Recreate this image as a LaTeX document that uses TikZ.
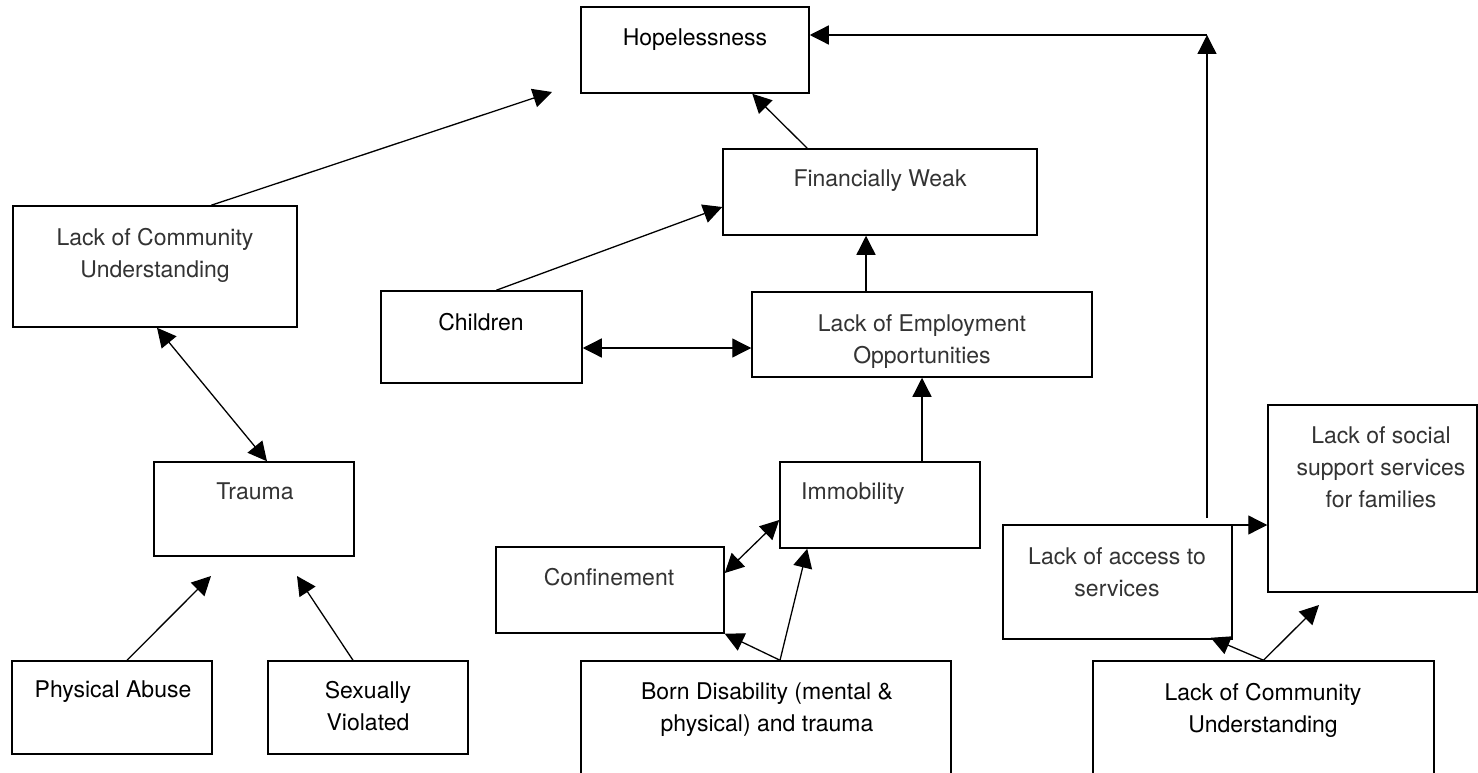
\documentclass[tikz,border=0pt]{standalone}
\usepackage{fontspec}
\setmainfont{TeX Gyre Heros}
\usetikzlibrary{arrows.meta}
\begin{document}
\begin{tikzpicture}[x=1pt,y=-1pt,
 box/.style={draw,line width=1.5pt,inner sep=0pt,rectangle},
 lbl/.style={anchor=north,inner sep=0pt,align=center,font=\fontsize{23}{32}\selectfont},
 lite/.style={lbl,text=black!80},
 reg/.style={lbl,text=black},
 arr/.style={line width=1.3pt,-{Triangle[length=19pt,width=19pt]}},
 darr/.style={line width=1.3pt,{Triangle[length=19pt,width=19pt]}-{Triangle[length=19pt,width=19pt]}}]
\useasboundingbox (0,0) rectangle (1478,773);
\fill[white] (0,0) rectangle (1478,773);

% boxes
\node[box,minimum width=228pt,minimum height=86pt] (hope) at (695,50) {};
\node[box,minimum width=314pt,minimum height=86pt] (fw) at (880,192) {};
\node[box,minimum width=284pt,minimum height=121pt] (locu) at (155,266.5) {};
\node[box,minimum width=201pt,minimum height=92pt] (child) at (481.5,337) {};
\node[box,minimum width=340pt,minimum height=85pt] (emp) at (922,334.5) {};
\node[box,minimum width=200pt,minimum height=94pt] (trauma) at (254,509) {};
\node[box,minimum width=200pt,minimum height=86pt] (immob) at (880,505) {};
\node[box,minimum width=209pt,minimum height=187pt] (social) at (1372.5,498.5) {};
\node[box,minimum width=228pt,minimum height=86pt] (conf) at (610,590) {};
\node[box,minimum width=229pt,minimum height=114pt] (access) at (1117.5,582) {};
\node[box,minimum width=200pt,minimum height=93pt] (pa) at (112,707.5) {};
\node[box,minimum width=200pt,minimum height=93pt] (sv) at (368,707.5) {};
\node[box,minimum width=370pt,minimum height=139pt] (bd) at (766,730.5) {};
\node[box,minimum width=341pt,minimum height=139pt] (bcomm) at (1263.5,730.5) {};

% texts
\node[reg] (hope-t) at (695,29) {Hopelessness};
\node[lite] (fw-t) at (880,170) {Financially Weak};
\node[lite] (locu-t) at (155,228) {Lack of Community\\Understanding};
\node[reg] (child-t) at (481,313) {Children};
\node[lite] (emp-t) at (922,314) {Lack of Employment\\Opportunities};
\node[lite] (trauma-t) at (255,483) {Trauma};
\node[lite,anchor=north west] (immob-t) at (801,483) {Immobility};
\node[lite] (social-t) at (1381,426) {Lack of social\\support services\\for families};
\node[lite] (conf-t) at (609,568) {Confinement};
\node[lite] (access-t) at (1117,547) {Lack of access to\\services};
\node[reg] (pa-t) at (113,681) {Physical Abuse};
\node[reg] (sv-t) at (368,681) {Sexually\\Violated};
\node[reg] (bd-t) at (767,683) {Born Disability (mental \&\\physical) and trauma};
\node[reg] (bcomm-t) at (1263,683) {Lack of Community\\Understanding};

% free ends
\coordinate (c1) at (552,92);
\coordinate (cS) at (1207,518);
\coordinate (cT) at (1207,35);
\coordinate (cA) at (1218,525);
\coordinate (c10) at (211,576);
\coordinate (c11) at (297,576);
\coordinate (c16) at (1319,605);

% connectors
\draw[arr] ([xshift=199pt]locu.north west) -- (c1);
\draw[arr] ([xshift=85pt]fw.north west) -- ([xshift=172pt]hope.south west);
\draw[arr] (cS) -- (cT);
\draw[arr] (cT) -- (hope.east |- cT);
\draw[arr] (cA) -- (social.west |- cA);
\draw[arr] ([xshift=116pt]child.north west) -- ([yshift=-15pt]fw.west);
\draw[darr] ([yshift=-11pt]child.east) -- ([yshift=-11pt]child.east -| emp.west);
\draw[arr] ([xshift=-56pt]emp.north) -- ([xshift=-56pt]emp.north |- fw.south);
\draw[arr] (immob.north -| emp.south) -- (emp.south);
\draw[darr] ([xshift=2pt]locu.south) -- ([xshift=13pt]trauma.north);
\draw[arr] ([xshift=15pt]pa.north) -- (c10);
\draw[arr] ([xshift=-15pt]sv.north) -- (c11);
\draw[darr] ([yshift=17pt]conf.east) -- ([yshift=-15pt]immob.west);
\draw[arr] ([xshift=14pt]bd.north) -- (conf.south east);
\draw[arr] ([xshift=14pt]bd.north) -- ([xshift=28pt]immob.south west);
\draw[arr] (bcomm.north) -- ([xshift=-22pt,yshift=2pt]access.south east);
\draw[arr] (bcomm.north) -- (c16);
\end{tikzpicture}
\end{document}
